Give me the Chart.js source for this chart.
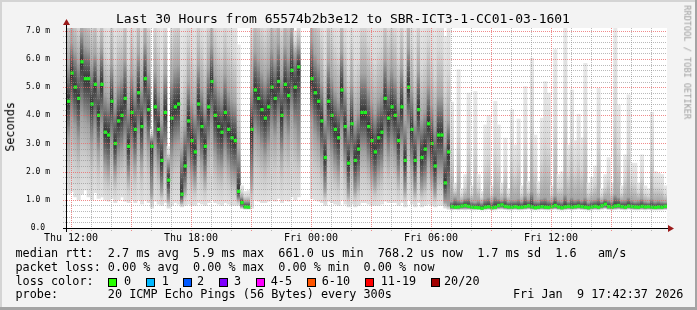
<!DOCTYPE html>
<html>
<head>
<meta charset="utf-8">
<title>Last 30 Hours - SBR-ICT3-1-CC01-03-1601</title>
<script src="https://cdn.jsdelivr.net/npm/chart.js@4.4.1/dist/chart.umd.min.js"></script>
<style>
  html, body { margin: 0; padding: 0; background: #f3f3f3; }
  #wrap { position: relative; width: 697px; height: 310px; overflow: hidden; }
  #smoke { position: absolute; left: 0; top: 0; }
  .txt { position: absolute; font-family: 'DejaVu Sans Mono', monospace; white-space: pre; color: #000; line-height: 1; }
  .leg { font-size: 11.8px; left: 15.5px; }
  .box { position: absolute; width: 7px; height: 7px; border: 1px solid #000; }
</style>
</head>
<body>
<div id="wrap">
  <canvas id="smoke" width="697" height="310"></canvas>
  <div class="txt" style="font-size:13px; left:116px; top:12.3px;">Last 30 Hours from 65574b2b3e12 to SBR-ICT3-1-CC01-03-1601</div>
  <div class="txt" style="font-size:11.8px; left:-19px; top:121px; width:60px; text-align:center; transform:rotate(-90deg);">Seconds</div>
  <div class="txt" style="font-size:8.6px; color:#9c9c9c; left:630px; top:58px; width:114px; text-align:center; transform:rotate(90deg);">RRDTOOL / TOBI OETIKER</div>
  <div class="txt leg" style="top:248.3px;">median rtt:  2.7 ms avg  5.9 ms max  661.0 us min  768.2 us now  1.7 ms sd  1.6   am/s</div>
  <div class="txt leg" style="top:261.9px;">packet loss: 0.00 % avg  0.00 % max  0.00 % min  0.00 % now</div>
  <div class="txt leg" style="top:275.6px;">loss color:</div>
  <div class="txt leg" style="top:289.3px;">probe:       20 ICMP Echo Pings (56 Bytes) every 300s</div>
  <div class="txt leg" style="top:289.3px; left:513px;">Fri Jan  9 17:42:37 2026</div>
  <div id="losskey"></div>
</div>
<script>
// 10 minute buckets, Thu 11:48 .. Fri 17:48 (hours counted from Thu 00:00)
const startHour = 11.8;
const spanHours = 30;
const stepHours = 1 / 6;

// median rtt per bucket (ms)
const rttMedian = [
  4.5, 5.5, 5.0, 4.6, 5.9, 5.3, 5.3, 4.4, 5.1, 4.0,
  5.1, 3.4, 3.3, 4.5, 3.0, 3.8, 4.0, 4.6, 2.9, 4.1,
  3.5, 4.8, 3.6, 5.3, 4.2, 2.9, 4.3, 3.5, 2.4, 4.1,
  1.7, 3.9, 4.3, 4.4, 1.2, 2.2, 3.8, 3.1, 2.7, 4.4,
  3.6, 2.9, 4.3, 5.2, 4.0, 3.6, 3.4, 4.1, 3.5, 3.2,
  3.1, 1.3, 0.9, 0.75, 0.74, 3.5, 4.9, 4.6, 4.2, 3.9,
  4.3, 5.0, 4.6, 5.2, 4.0, 5.1, 4.7, 5.6, 5.0, 5.72,
  null, null, null, 5.3, 4.8, 4.5, 3.8, 2.5, 4.5, 4.0,
  3.5, 3.2, 4.9, 3.6, 2.3, 3.7, 2.4, 2.8, 4.1, 4.1,
  3.6, 3.1, 2.7, 3.2, 3.4, 4.6, 3.9, 4.3, 4.0, 3.1,
  4.3, 2.4, 5.0, 3.5, 2.4, 4.2, 2.5, 2.8, 3.7, 3.0,
  2.2, 3.3, 3.3, 1.6, 2.7, 0.76, 0.74, 0.75, 0.78, 0.80,
  0.77, 0.74, 0.73, 0.72, 0.70, 0.74, 0.76, 0.72, 0.74, 0.80,
  0.82, 0.77, 0.75, 0.74, 0.76, 0.73, 0.74, 0.76, 0.79, 0.75,
  0.72, 0.74, 0.76, 0.74, 0.73, 0.76, 0.80, 0.75, 0.72, 0.75,
  0.77, 0.74, 0.76, 0.78, 0.76, 0.74, 0.72, 0.75, 0.77, 0.74,
  0.79, 0.84, 0.76, 0.74, 0.78, 0.80, 0.76, 0.74, 0.78, 0.76,
  0.75, 0.74, 0.77, 0.75, 0.76, 0.74, 0.73, 0.75, 0.74, 0.77
];

// fastest ping per bucket (ms)
const rttMin = [
  1.2, 1.3, 1.1, 1.0, 1.2, 1.35, 1.1, 1.0, 1.25, 1.05,
  1.1, 1.0, 0.95, 1.05, 0.9, 1.0, 1.1, 0.95, 0.9, 1.0,
  0.9, 1.0, 0.85, 1.0, 0.9, 0.7, 0.95, 0.85, 0.8, 0.9,
  0.7, 0.8, 0.9, 0.85, 0.75, 0.8, 0.85, 0.8, 0.8, 0.9,
  0.85, 0.8, 0.9, 1.0, 0.9, 0.85, 0.8, 0.9, 0.85, 0.8,
  0.8, 0.8, 0.68, 0.66, 0.66, 0.7, 1.0, 0.95, 0.9, 0.9,
  0.95, 1.0, 0.95, 1.05, 0.9, 1.0, 0.95, 1.1, 1.0, 1.1,
  null, null, null, 1.05, 1.0, 0.95, 0.9, 0.8, 0.95, 0.9,
  0.85, 0.8, 1.0, 0.85, 0.75, 0.85, 0.75, 0.8, 0.9, 0.9,
  0.85, 0.8, 0.8, 0.8, 0.85, 0.95, 0.9, 0.9, 0.9, 0.8,
  0.9, 0.75, 1.0, 0.85, 0.75, 0.9, 0.75, 0.8, 0.85, 0.8,
  0.75, 0.8, 0.8, 0.7, 0.66, 0.64, 0.65, 0.64, 0.65, 0.64,
  0.65, 0.64, 0.64, 0.65, 0.63, 0.64, 0.65, 0.64, 0.64, 0.66,
  0.66, 0.65, 0.64, 0.64, 0.65, 0.64, 0.64, 0.65, 0.66, 0.64,
  0.64, 0.64, 0.65, 0.64, 0.64, 0.65, 0.66, 0.64, 0.63, 0.64,
  0.65, 0.64, 0.65, 0.66, 0.65, 0.64, 0.63, 0.64, 0.65, 0.64,
  0.66, 0.68, 0.65, 0.64, 0.65, 0.66, 0.65, 0.64, 0.66, 0.65,
  0.64, 0.64, 0.65, 0.64, 0.65, 0.64, 0.64, 0.64, 0.64, 0.65
];

// lower quarter of the pings (ms)
const rttLow = [
  3.2, 3.9, 3.6, 3.1, 4.0, 3.8, 3.6, 3.0, 3.5, 2.7,
  3.6, 2.2, 2.0, 3.0, 1.9, 2.5, 2.7, 3.1, 1.8, 2.7,
  2.2, 3.3, 2.3, 3.7, 2.8, 1.2, 2.9, 2.2, 1.3, 2.7,
  1.0, 2.5, 2.9, 3.0, 0.9, 1.3, 2.4, 1.9, 1.6, 3.0,
  2.3, 1.7, 2.9, 3.6, 2.6, 2.2, 2.1, 2.7, 2.2, 1.9,
  1.8, 1.0, 0.75, 0.7, 0.7, 1.6, 3.4, 3.1, 2.8, 2.5,
  2.9, 3.5, 3.2, 3.7, 2.6, 3.6, 3.2, 4.1, 3.5, 3.0,
  null, null, null, 3.8, 3.3, 3.0, 2.4, 1.3, 3.0, 2.6,
  2.2, 1.9, 3.4, 2.3, 1.2, 2.4, 1.3, 1.6, 2.7, 2.7,
  2.3, 1.8, 1.5, 1.9, 2.1, 3.1, 2.5, 2.9, 2.6, 1.8,
  2.9, 1.3, 3.5, 2.2, 1.3, 2.8, 1.4, 1.6, 2.4, 1.7,
  1.2, 2.0, 2.0, 0.9, 0.8, 0.68, 0.68, 0.68, 0.69, 0.70,
  0.69, 0.68, 0.68, 0.68, 0.67, 0.68, 0.69, 0.68, 0.68, 0.70,
  0.71, 0.69, 0.68, 0.68, 0.69, 0.68, 0.68, 0.69, 0.70, 0.68,
  0.68, 0.68, 0.69, 0.68, 0.68, 0.69, 0.70, 0.68, 0.67, 0.68,
  0.69, 0.68, 0.69, 0.70, 0.69, 0.68, 0.67, 0.68, 0.69, 0.68,
  0.70, 0.72, 0.69, 0.68, 0.69, 0.70, 0.69, 0.68, 0.70, 0.69,
  0.68, 0.68, 0.69, 0.68, 0.69, 0.68, 0.68, 0.68, 0.68, 0.69
];

// upper quarter of the pings (ms)
const rttHigh = [
  5.8, 6.6, 6.3, 5.9, 7.0, 6.5, 6.4, 5.8, 6.2, 5.4,
  6.4, 4.8, 4.6, 5.8, 4.4, 5.2, 5.4, 6.0, 4.3, 5.5,
  4.9, 6.2, 5.0, 6.6, 5.6, 3.2, 5.6, 4.9, 3.8, 5.5,
  2.4, 5.3, 5.7, 5.8, 2.8, 3.6, 5.2, 4.5, 4.1, 5.8,
  5.0, 4.3, 5.7, 6.5, 5.4, 5.0, 4.8, 5.5, 4.9, 4.6,
  4.5, 2.8, 1.1, 0.95, 0.95, 5.0, 6.3, 6.0, 5.6, 5.3,
  5.7, 6.4, 6.0, 6.6, 5.4, 6.5, 6.1, 7.0, 6.2, 6.5,
  null, null, null, 6.7, 6.2, 5.9, 5.2, 3.9, 5.9, 5.4,
  4.9, 4.6, 6.3, 5.0, 3.7, 5.1, 3.8, 4.2, 5.5, 5.5,
  5.0, 4.5, 4.1, 4.6, 4.8, 6.0, 5.3, 5.7, 5.4, 4.5,
  5.7, 3.8, 6.4, 4.9, 3.8, 5.6, 3.9, 4.2, 5.1, 4.4,
  3.6, 4.7, 4.7, 3.0, 3.8, 0.95, 1.1, 1.0, 0.95, 1.05,
  1.1, 0.95, 0.92, 0.98, 0.9, 1.05, 1.1, 0.95, 1.15, 1.05,
  0.98, 1.1, 0.95, 1.0, 0.98, 1.05, 0.95, 1.15, 1.0, 1.3,
  0.98, 0.95, 1.05, 1.1, 1.0, 0.95, 1.15, 0.98, 0.95, 1.2,
  0.95, 1.1, 1.0, 1.05, 0.98, 1.1, 0.92, 0.98, 1.0, 1.1,
  0.95, 1.05, 1.0, 0.95, 1.2, 1.1, 0.98, 1.0, 1.1, 1.0,
  0.95, 0.98, 1.05, 0.95, 0.92, 1.05, 0.95, 0.98, 0.95, 0.92
];

// slowest ping per bucket (ms), many run off the top of the graph
const rttMax = [
  9.5, 10.5, 9.0, 8.5, 11.0, 10.0, 9.2, 8.8, 9.6, 8.2,
  9.0, 8.0, 7.6, 9.2, 7.8, 8.6, 8.4, 9.8, 7.5, 8.8,
  8.2, 9.5, 8.0, 10.0, 8.8, 3.5, 9.0, 8.2, 7.4, 8.6,
  2.9, 8.4, 9.0, 9.2, 7.2, 7.6, 8.6, 8.0, 7.8, 9.0,
  8.4, 7.8, 9.0, 10.0, 8.8, 8.2, 8.0, 8.8, 8.2, 7.9,
  7.8, 6.5, 1.5, 1.3, 1.35, 9.0, 10.0, 9.5, 9.0, 8.6,
  9.2, 10.0, 9.4, 10.5, 8.8, 10.2, 9.6, 11.0, 7.0, 7.6,
  null, null, null, 10.5, 9.8, 9.4, 8.6, 7.6, 9.4, 8.8,
  8.2, 7.9, 10.0, 8.3, 7.4, 8.4, 7.5, 7.8, 8.9, 8.9,
  8.3, 7.8, 7.6, 8.0, 8.2, 9.4, 8.6, 9.0, 8.7, 7.9,
  9.0, 7.4, 10.0, 8.2, 7.4, 8.9, 7.5, 7.8, 8.4, 7.8,
  7.3, 8.0, 8.0, 6.8, 7.4, 4.47, 1.6, 5.62, 1.4, 1.9,
  4.79, 1.5, 4.85, 1.9, 1.3, 3.66, 4.0, 1.5, 4.5, 3.66,
  1.6, 3.19, 1.4, 4.2, 2.95, 3.87, 1.5, 5.02, 1.65, 6.03,
  3.3, 1.65, 3.9, 5.2, 4.79, 1.5, 6.33, 1.9, 2.0, 7.3,
  2.95, 4.9, 3.1, 4.04, 3.2, 5.85, 1.6, 1.8, 2.2, 4.96,
  1.4, 1.9, 2.5, 1.6, 7.3, 4.37, 1.5, 2.6, 4.73, 2.3,
  2.3, 1.6, 2.6, 1.5, 1.4, 4.11, 2.0, 1.95, 1.9, 1.5
];

// x axis labels (every 6 hours)
const xTickHours = [12, 18, 24, 30, 36];
const xTickLabels = ['Thu 12:00', 'Thu 18:00', 'Fri 00:00', 'Fri 06:00', 'Fri 12:00'];
const yMax = 7.1;

// loss colour key
const lossLabels = ['0', '1', '2', '3', '4-5', '6-10', '11-19', '20/20'];
const lossColors = ['#26ff00', '#00b8ff', '#0059ff', '#7e00ff', '#ff00ff', '#ff5500', '#ff0000', '#a10000'];

// key layout
const keyBoxX = [108.3, 145.7, 182.7, 219, 256, 307, 365, 431];
const keyTextX = [124, 161.7, 197, 234, 270.7, 321.7, 380.7, 444];

const key = document.getElementById('losskey');
lossLabels.forEach((lab, i) => {
    const b = document.createElement('div');
    b.className = 'box';
    b.style.left = keyBoxX[i] + 'px';
    b.style.top = '278.3px';
    b.style.background = lossColors[i];
    key.appendChild(b);
    const t = document.createElement('div');
    t.className = 'txt';
    t.style.fontSize = '11.8px';
    t.style.left = keyTextX[i] + 'px';
    t.style.top = '275.6px';
    t.textContent = lab;
    key.appendChild(t);
});

// bucket centre on the hour axis
function stepX(i) {
    return startHour + (i + 0.5) * stepHours;
}

const smokeData = [];
const medianData = [];
rttMedian.forEach((m, i) => {
    if (m === null) return;
    smokeData.push({ x: stepX(i), y: [rttMin[i], rttMax[i]], step: i });
    medianData.push({ x: stepX(i), y: m });
});

// the smoke: dark at the median, fading out to the fastest / slowest ping
function smokeFill(c) {
    const chart = c.chart;
    const y = chart.scales.y;
    if (c.type !== 'data' || !c.raw || !y) return '#dcdcdc';
    const i = c.raw.step;
    const top = y.getPixelForValue(rttMax[i]);
    const bot = y.getPixelForValue(rttMin[i]);
    const span = bot - top;
    if (!(span > 0)) return '#dcdcdc';
    const pos = v => Math.min(1, Math.max(0, (y.getPixelForValue(v) - top) / span));
    const pHi = pos(rttHigh[i]);
    const pMed = pos(rttMedian[i]);
    const pLo = pos(rttLow[i]);
    const g = chart.ctx.createLinearGradient(0, top, 0, bot);
    g.addColorStop(0, '#e8e8e8');
    g.addColorStop(pHi * 0.5, '#d8d8d8');
    g.addColorStop(pHi, '#a6a6a6');
    g.addColorStop(pMed, '#333333');
    g.addColorStop(pLo, '#a2a2a2');
    g.addColorStop(pLo + (1 - pLo) * 0.5, '#cbcbcb');
    g.addColorStop(1, '#e2e2e2');
    return g;
}

const majorRed = 'rgba(235, 100, 100, 0.75)';
const minorGrey = 'rgba(140, 140, 140, 0.6)';

// frame, plot background, dotted grid on top of the smoke, axis lines with arrow heads
const frame = {
    id: 'frame',
    beforeDraw(chart) {
        const { ctx, chartArea: a, width, height } = chart;
        ctx.save();
        ctx.fillStyle = '#f3f3f3';
        ctx.fillRect(0, 0, width, height);
        ctx.fillStyle = '#d4d4d4';
        ctx.fillRect(0, 0, width, 2);
        ctx.fillRect(0, 0, 2, height);
        ctx.fillStyle = '#a4a4a4';
        ctx.fillRect(0, height - 3, width, 3);
        ctx.fillRect(width - 2, 0, 2, height);
        ctx.fillStyle = '#ffffff';
        ctx.fillRect(a.left, a.top, a.right - a.left, a.bottom - a.top);
        ctx.restore();
    },
    afterDatasetsDraw(chart) {
        const { ctx, chartArea: a, scales: { x, y } } = chart;
        ctx.save();
        ctx.lineWidth = 1;
        ctx.setLineDash([1, 1]);
        y.ticks.forEach(t => {
            if (t.value <= 0) return;
            const py = Math.round(y.getPixelForValue(t.value)) + 0.5;
            const major = Math.abs(t.value - Math.round(t.value)) < 1e-9;
            ctx.strokeStyle = major ? majorRed : minorGrey;
            ctx.beginPath();
            ctx.moveTo(a.left - 4, py);
            ctx.lineTo(a.right, py);
            ctx.stroke();
        });
        x.ticks.forEach(t => {
            const px = Math.round(x.getPixelForValue(t.value)) + 0.5;
            ctx.strokeStyle = t.value % 3 === 0 ? majorRed : minorGrey;
            ctx.beginPath();
            ctx.moveTo(px, a.top);
            ctx.lineTo(px, a.bottom + 4);
            ctx.stroke();
        });
        ctx.restore();
    },
    afterDraw(chart) {
        const { ctx, chartArea: a } = chart;
        ctx.save();
        ctx.strokeStyle = '#000';
        ctx.lineWidth = 1;
        ctx.beginPath();
        ctx.moveTo(a.left - 4, a.bottom + 0.5);
        ctx.lineTo(a.right + 2, a.bottom + 0.5);
        ctx.moveTo(a.left - 0.5, a.bottom + 4);
        ctx.lineTo(a.left - 0.5, a.top - 4);
        ctx.stroke();
        ctx.fillStyle = '#9b1b1b';
        ctx.beginPath();
        ctx.moveTo(a.right + 1, a.bottom - 3);
        ctx.lineTo(a.right + 7, a.bottom + 0.5);
        ctx.lineTo(a.right + 1, a.bottom + 4);
        ctx.closePath();
        ctx.fill();
        ctx.beginPath();
        ctx.moveTo(a.left - 4, a.top - 3);
        ctx.lineTo(a.left - 0.5, a.top - 9);
        ctx.lineTo(a.left + 3, a.top - 3);
        ctx.closePath();
        ctx.fill();
        ctx.restore();
    }
};

new Chart(document.getElementById('smoke'), {
    type: 'bar',
    data: {
        datasets: [
            {
                type: 'line',
                label: 'median rtt',
                data: medianData,
                showLine: false,
                pointStyle: 'rect',
                pointRadius: 2.35,
                pointBorderWidth: 0,
                pointBackgroundColor: '#22f022',
                order: 0
            },
            {
                label: 'smoke',
                data: smokeData,
                backgroundColor: smokeFill,
                borderWidth: 0,
                barPercentage: 1,
                categoryPercentage: 1,
                grouped: false,
                order: 1
            }
        ]
    },
    options: {
        responsive: false,
        animation: false,
        events: [],
        layout: { padding: { left: 0, right: 30, top: 28, bottom: 0 } },
        plugins: {
            legend: { display: false },
            tooltip: { enabled: false },
            title: { display: false }
        },
        scales: {
            x: {
                type: 'linear',
                min: startHour,
                max: startHour + spanHours,
                offset: false,
                afterFit: s => { s.height = 82; },
                afterBuildTicks: s => {
                    const t = [];
                    for (let h = Math.ceil(startHour); h < startHour + spanHours; h++) t.push({ value: h });
                    s.ticks = t;
                },
                ticks: {
                    autoSkip: false,
                    maxRotation: 0,
                    padding: 4,
                    color: '#000',
                    font: { family: 'DejaVu Sans Mono', size: 10 },
                    callback: v => {
                        const k = xTickHours.indexOf(v);
                        return k < 0 ? '' : xTickLabels[k];
                    }
                },
                grid: { display: false, drawTicks: false },
                border: { display: false }
            },
            y: {
                type: 'linear',
                min: 0,
                max: yMax,
                afterFit: s => { s.width = 67; },
                afterBuildTicks: s => {
                    const t = [];
                    for (let j = 0; j / 5 <= 7; j++) t.push({ value: j / 5 });
                    s.ticks = t;
                },
                ticks: {
                    autoSkip: false,
                    padding: 17,
                    color: '#000',
                    font: { family: 'DejaVu Sans Mono', size: 8 },
                    callback: v => {
                        if (Math.abs(v - Math.round(v)) > 1e-9) return '';
                        return v === 0 ? '0.0 ' : v.toFixed(1) + ' m';
                    }
                },
                grid: { display: false, drawTicks: false },
                border: { display: false }
            }
        }
    },
    plugins: [frame]
});
</script>
</body>
</html>
